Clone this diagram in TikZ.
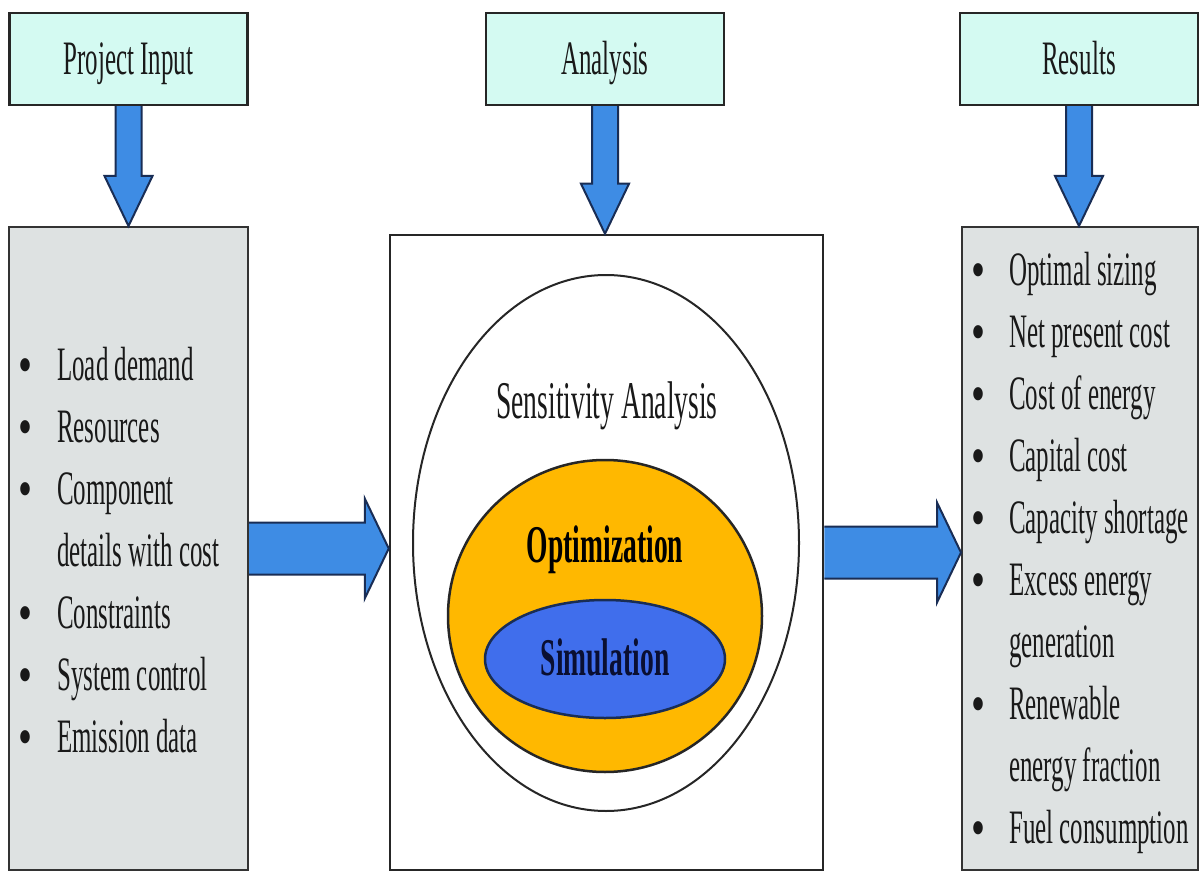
\documentclass[tikz,border=0pt]{standalone}
\usepackage{fontspec}
\setmainfont{Liberation Serif}[FakeStretch=0.52]
\usetikzlibrary{calc,shapes.geometric}
\definecolor{topfill}{RGB}{212,250,242}
\definecolor{grayfill}{RGB}{222,226,226}
\definecolor{arrowfill}{RGB}{62,140,228}
\definecolor{arrowline}{RGB}{25,45,85}
\definecolor{optfill}{RGB}{255,184,0}
\definecolor{simfill}{RGB}{64,110,236}
\definecolor{ink}{RGB}{25,25,25}
\newcommand\blockdown[2]{%
  \draw[blockarrow] let \p1=(#1.south), \p2=(#2.north) in
    (\x1-13pt,\y1) -- (\x1-13pt,\y2+50pt) -- (\x1-24pt,\y2+50pt) -- (\x1,\y2)
    -- (\x1+24pt,\y2+50pt) -- (\x1+13pt,\y2+50pt) -- (\x1+13pt,\y1);}
\newcommand\blockright[2]{%
  \draw[blockarrow] let \p1=(#1.east), \p2=(#2.west) in
    (\x1,\y1+26pt) -- (\x2-24pt,\y1+26pt) -- (\x2-24pt,\y1+50pt) -- (\x2,\y1)
    -- (\x2-24pt,\y1-50pt) -- (\x2-24pt,\y1-26pt) -- (\x1,\y1-26pt);}
\newcommand\bigbullet{\scalebox{1.6}[1.15]{\textbullet}}
\begin{document}
\begin{tikzpicture}[x=1pt,y=-1pt,
  headbox/.style={draw=black!85, line width=2.5pt, fill=topfill, minimum width=238pt,
    minimum height=92pt, inner sep=0pt, text height=36pt, text depth=4pt,
    font=\fontsize{48}{58}\selectfont, text=ink},
  listbox/.style={draw=black!80, line width=2pt, fill=grayfill, inner sep=0pt},
  mainbox/.style={draw=black!85, line width=2.5pt, fill=white, inner sep=0pt},
  blockarrow/.style={draw=arrowline, line width=2pt, fill=arrowfill, line join=miter},
  listtext/.style={anchor=base west, inner sep=0pt, font=\fontsize{48}{58}\selectfont, text=ink},
  bul/.style={anchor=base, inner sep=0pt, font=\fontsize{48}{58}\selectfont, text=ink},
  ring/.style={ellipse, draw=black!85, inner sep=0pt},
  bigtext/.style={anchor=base, inner sep=0pt, font=\fontsize{53}{60}\selectfont},
]
\useasboundingbox (0,0) rectangle (1200,872);

% top boxes
\node[headbox] (pi) at (128.5,59) {Project Input};
\node[headbox] (ana) at (605,59) {Analysis};
\node[headbox] (res) at (1079,59) {Results};

% main boxes
\node[listbox, minimum width=239pt, minimum height=643pt] (inbox) at (128.5,548.5) {};
\node[mainbox, minimum width=433pt, minimum height=635pt] (anbox) at (606.5,552.5) {};
\node[listbox, minimum width=236pt, minimum height=643pt] (resbox) at (1080,548.5) {};

% nested ellipses
\node[ring, line width=2pt, fill=white, minimum width=386pt, minimum height=536pt] (sens) at (606,543) {};
\node[ring, line width=2.5pt, fill=optfill, minimum width=314pt, minimum height=312pt] (opt) at (605,616) {};
\node[ring, line width=2.5pt, draw=arrowline, fill=simfill, minimum width=240pt, minimum height=118pt] (sim) at (605,659) {};
\node[bigtext, text=ink] (senst) at (607,418) {Sensitivity Analysis};
\node[bigtext, text=black, font=\fontsize{53}{60}\selectfont\bfseries] (optt) at (605,562) {Optimization};
\node[bigtext, text={rgb,255:red,10;green,15;blue,50}, font=\fontsize{53}{60}\selectfont\bfseries] (simt) at (605,675) {Simulation};

% left list
\node[bul] (lb1) at (25,383) {\bigbullet};
\node[listtext] (l1) at (57,380) {Load demand};
\node[bul] (lb2) at (25,445) {\bigbullet};
\node[listtext] (l2) at (57,442) {Resources};
\node[bul] (lb3) at (25,507) {\bigbullet};
\node[listtext] (l3) at (57,504) {Component};
\node[listtext] (l4) at (57,566) {details with cost};
\node[bul] (lb5) at (25,631) {\bigbullet};
\node[listtext] (l5) at (57,628) {Constraints};
\node[bul] (lb6) at (25,693) {\bigbullet};
\node[listtext] (l6) at (57,690) {System control};
\node[bul] (lb7) at (25,755) {\bigbullet};
\node[listtext] (l7) at (57,752) {Emission data};

% right list
\node[bul] (rb1) at (978,288) {\bigbullet};
\node[listtext] (r1) at (1009,285) {Optimal sizing};
\node[bul] (rb2) at (978,350) {\bigbullet};
\node[listtext] (r2) at (1009,347) {Net present cost};
\node[bul] (rb3) at (978,412) {\bigbullet};
\node[listtext] (r3) at (1009,409) {Cost of energy};
\node[bul] (rb4) at (978,474) {\bigbullet};
\node[listtext] (r4) at (1009,471) {Capital cost};
\node[bul] (rb5) at (978,536) {\bigbullet};
\node[listtext] (r5) at (1009,533) {Capacity shortage};
\node[bul] (rb6) at (978,598) {\bigbullet};
\node[listtext] (r6) at (1009,595) {Excess energy};
\node[listtext] (r7) at (1009,657) {generation};
\node[bul] (rb8) at (978,722) {\bigbullet};
\node[listtext] (r8) at (1009,719) {Renewable};
\node[listtext] (r9) at (1009,781) {energy fraction};
\node[bul] (rb10) at (978,846) {\bigbullet};
\node[listtext] (r10) at (1009,843) {Fuel consumption};

% block arrows
\blockdown{pi}{inbox}
\blockdown{ana}{anbox}
\blockdown{res}{resbox}
\blockright{inbox}{anbox}
\blockright{anbox}{resbox}
\end{tikzpicture}
\end{document}
